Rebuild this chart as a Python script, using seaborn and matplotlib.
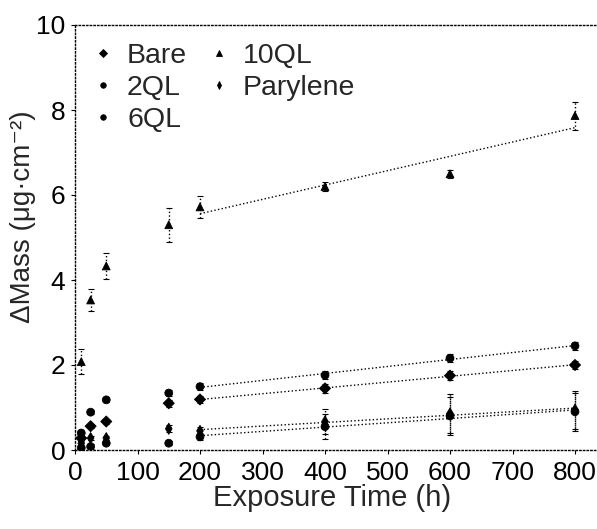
import numpy as np
import pandas as pd
import seaborn as sns
import matplotlib
matplotlib.use("Agg")
import matplotlib.pyplot as plt

# ---- data ----
time_h = [10, 25, 50, 150, 200, 400, 600, 800]
series_names = ["Bare", "2QL", "6QL", "10QL", "Parylene"]
bare = [0.28, 0.56, 0.67, 1.10, 1.19, 1.45, 1.75, 2.00]
ql2 = [0.05, 0.08, 0.16, 0.16, 0.31, 0.55, 0.80, 0.90]
ql6 = [0.40, 0.89, 1.18, 1.34, 1.49, 1.76, 2.16, 2.45]
ql10 = [2.08, 3.53, 4.33, 5.30, 5.72, 6.20, 6.50, 7.87]
parylene = [0.16, 0.28, 0.28, 0.50, 0.45, 0.67, 0.86, 0.95]
err_bare = [0.05, 0.05, 0.05, 0.08, 0.08, 0.10, 0.10, 0.10]
err_ql2 = [0.05, 0.05, 0.05, 0.05, 0.08, 0.30, 0.45, 0.45]
err_ql6 = [0.05, 0.05, 0.05, 0.08, 0.08, 0.10, 0.10, 0.10]
err_ql10 = [0.30, 0.25, 0.30, 0.40, 0.25, 0.10, 0.10, 0.33]
err_parylene = [0.05, 0.05, 0.05, 0.08, 0.08, 0.30, 0.45, 0.45]
x_ticks = [0, 100, 200, 300, 400, 500, 600, 700, 800]
y_ticks = [0, 2, 4, 6, 8, 10]

values = [bare, ql2, ql6, ql10, parylene]
errors = [err_bare, err_ql2, err_ql6, err_ql10, err_parylene]
df = pd.DataFrame({
    "Time": np.tile(time_h, len(series_names)),
    "Mass": np.concatenate(values),
    "Err": np.concatenate(errors),
    "Series": np.repeat(series_names, len(time_h)),
})

sns.set_theme(style="white")
plt.rcParams["font.family"] = ["Liberation Sans", "DejaVu Sans"]

W, H = 597, 529
fig = plt.figure(figsize=(W / 100, H / 100), dpi=100)
x0, x800, y0, y10 = 75, 575, 450, 25
px_per_h = (x800 - x0) / 800
xmax = 850
ax_w = xmax * px_per_h
ax = fig.add_axes([x0 / W, (H - y0) / H, ax_w / W, (y0 - y10) / H])

markers = {"Bare": "D", "2QL": "o", "6QL": "o", "10QL": "^", "Parylene": "d"}

for name, v, e in zip(series_names, values, errors):
    eb = ax.errorbar(time_h, v, yerr=e, fmt="none", ecolor="black",
                     elinewidth=1.0, capsize=2.5, capthick=0.8, zorder=2)
    eb[-1][0].set_linestyle(":")
    sub = df[(df["Series"] == name) & (df["Time"] >= 200)]
    sns.regplot(data=sub, x="Time", y="Mass", scatter=False, ci=None,
                truncate=True, ax=ax,
                line_kws=dict(color="black", lw=1.0, linestyle=":"))

sns.scatterplot(data=df, x="Time", y="Mass", style="Series",
                style_order=series_names, markers=markers, color="black",
                s=32, edgecolor="black", linewidth=0.6, ax=ax, zorder=3)

ax.set_xlim(0, xmax)
ax.set_ylim(0, 10)
ax.set_xticks(x_ticks)
ax.set_yticks(y_ticks)
ax.tick_params(axis="both", labelsize=19, length=3, width=0.8,
               direction="out", colors="black", bottom=True, left=True)
ax.tick_params(axis="x", pad=5)
ax.tick_params(axis="y", pad=4)
ax.set_xlabel("Exposure Time (h)", fontsize=21)
ax.xaxis.set_label_coords((332 - x0) / ax_w, (y0 - 484) / (y0 - y10))
ax.set_ylabel("ΔMass (μg·cm⁻²)", fontsize=20)
ax.yaxis.set_label_coords((36 - x0) / ax_w, (y0 - 217) / (y0 - y10))
for side in ["left", "top", "bottom"]:
    ax.spines[side].set_visible(True)
    ax.spines[side].set_color("black")
    ax.spines[side].set_linestyle(":")
    ax.spines[side].set_linewidth(1.0)
ax.spines["right"].set_visible(False)

handles, labels = ax.get_legend_handles_labels()
ax.legend(handles, labels, ncol=2, loc="upper left", frameon=False,
          fontsize=20.5, handlelength=0.6, handletextpad=0.55,
          columnspacing=0.8, labelspacing=0.22, borderaxespad=0.0,
          bbox_to_anchor=(0.015, 0.985), markerscale=0.7)

fig.savefig("out.png", dpi=100)
